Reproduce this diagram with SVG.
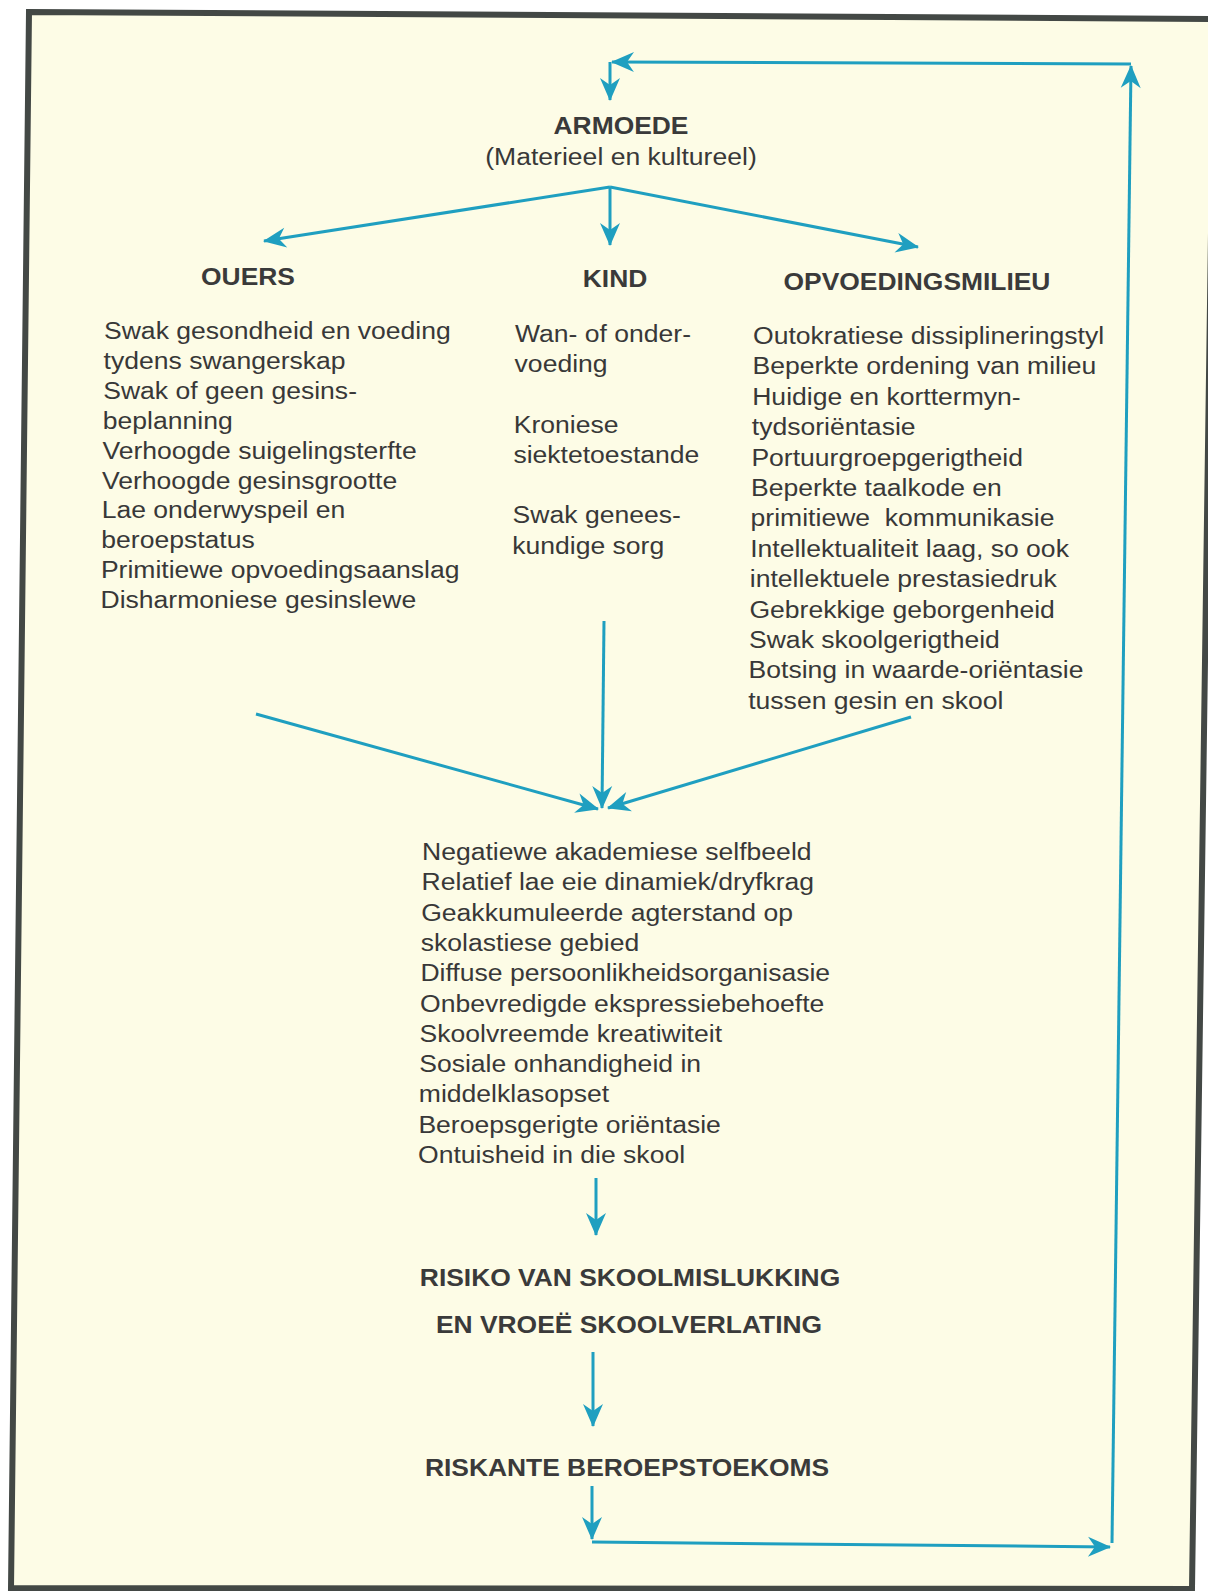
<svg xmlns="http://www.w3.org/2000/svg" width="1208" height="1591" viewBox="0 0 1208 1591">
<style>
.t{font-family:"Liberation Sans",Arial,sans-serif;font-size:23.5px;fill:#383838}
.b{font-family:"Liberation Sans",Arial,sans-serif;font-size:24px;font-weight:bold;fill:#3a3a3a;text-anchor:middle}
.c{fill:none;stroke:#1f9fc0;stroke-width:3;marker-end:url(#ah)}
.p{fill:none;stroke:#1f9fc0;stroke-width:3}
</style>
<defs>
<marker id="ah" viewBox="-23 -11 25 22" refX="0" refY="0" markerWidth="25" markerHeight="22" markerUnits="userSpaceOnUse" orient="auto">
<path d="M1,0 L-22,-10 L-15,0 L-22,10 Z" fill="#1f9fc0"/>
</marker>
</defs>
<rect x="0" y="0" width="1208" height="1591" fill="#ffffff"/>
<polygon id="frame" points="29,12 1214,19 1192,1589 11,1588" fill="#fdfce6" stroke="#434845" stroke-width="6"/>

<g id="connectors">
<line class="c" x1="1131" y1="64" x2="612" y2="62"/>
<line class="c" x1="610" y1="62" x2="610" y2="100"/>
<line class="c" x1="1112" y1="1543" x2="1131" y2="66"/>
<line class="c" x1="592" y1="1542" x2="1110" y2="1547"/>
<line class="c" x1="592" y1="1486" x2="592" y2="1539"/>
<line class="c" x1="610" y1="187" x2="264" y2="241"/>
<line class="c" x1="610" y1="187" x2="610" y2="245"/>
<line class="c" x1="610" y1="187" x2="918" y2="247"/>
<line class="c" x1="256" y1="714" x2="598" y2="809"/>
<line class="c" x1="604" y1="621" x2="602" y2="808"/>
<line class="c" x1="911" y1="717" x2="608" y2="808"/>
<line class="c" x1="596" y1="1178" x2="596" y2="1235"/>
<line class="c" x1="593" y1="1352" x2="593" y2="1426"/>
</g>

<g id="armoede">
<text class="b" transform="translate(621,134) scale(1.1,1)">ARMOEDE</text>
<text class="t" text-anchor="middle" transform="translate(621,165) scale(1.13,1)">(Materieel en kultureel)</text>
</g>

<g id="ouers">
<text class="b" transform="translate(248,285) scale(1.1,1)">OUERS</text>
<text class="t" transform="translate(104,339) scale(1.13,1)">Swak gesondheid en voeding</text>
<text class="t" transform="translate(103.6,369) scale(1.13,1)">tydens swangerskap</text>
<text class="t" transform="translate(103.2,399) scale(1.13,1)">Swak of geen gesins-</text>
<text class="t" transform="translate(102.8,429) scale(1.13,1)">beplanning</text>
<text class="t" transform="translate(102.4,459) scale(1.13,1)">Verhoogde suigelingsterfte</text>
<text class="t" transform="translate(102,488.5) scale(1.13,1)">Verhoogde gesinsgrootte</text>
<text class="t" transform="translate(101.7,518) scale(1.13,1)">Lae onderwyspeil en</text>
<text class="t" transform="translate(101.3,548) scale(1.13,1)">beroepstatus</text>
<text class="t" transform="translate(100.9,578) scale(1.13,1)">Primitiewe opvoedingsaanslag</text>
<text class="t" transform="translate(100.5,608) scale(1.13,1)">Disharmoniese gesinslewe</text>
</g>

<g id="kind">
<text class="b" transform="translate(615,287) scale(1.1,1)">KIND</text>
<text class="t" transform="translate(515,342) scale(1.13,1)">Wan- of onder-</text>
<text class="t" transform="translate(514.6,372) scale(1.13,1)">voeding</text>
<text class="t" transform="translate(513.8,433) scale(1.13,1)">Kroniese</text>
<text class="t" transform="translate(513.4,463) scale(1.13,1)">siektetoestande</text>
<text class="t" transform="translate(512.6,523) scale(1.13,1)">Swak genees-</text>
<text class="t" transform="translate(512.2,554) scale(1.13,1)">kundige sorg</text>
</g>

<g id="opvoedingsmilieu">
<text class="b" transform="translate(917,290) scale(1.1,1)">OPVOEDINGSMILIEU</text>
<text class="t" transform="translate(753,344) scale(1.13,1)">Outokratiese dissiplineringstyl</text>
<text class="t" transform="translate(752.6,374) scale(1.13,1)">Beperkte ordening van milieu</text>
<text class="t" transform="translate(752.2,405) scale(1.13,1)">Huidige en korttermyn-</text>
<text class="t" transform="translate(751.8,435) scale(1.13,1)">tydsoriëntasie</text>
<text class="t" transform="translate(751.4,466) scale(1.13,1)">Portuurgroepgerigtheid</text>
<text class="t" transform="translate(751,496) scale(1.13,1)">Beperkte taalkode en</text>
<text class="t" transform="translate(750.6,526) scale(1.13,1)">primitiewe&#160; kommunikasie</text>
<text class="t" transform="translate(750.2,557) scale(1.13,1)">Intellektualiteit laag, so ook</text>
<text class="t" transform="translate(749.8,587) scale(1.13,1)">intellektuele prestasiedruk</text>
<text class="t" transform="translate(749.4,618) scale(1.13,1)">Gebrekkige geborgenheid</text>
<text class="t" transform="translate(749,648) scale(1.13,1)">Swak skoolgerigtheid</text>
<text class="t" transform="translate(748.6,678) scale(1.13,1)">Botsing in waarde-oriëntasie</text>
<text class="t" transform="translate(748.2,709) scale(1.13,1)">tussen gesin en skool</text>
</g>

<g id="gevolge">
<text class="t" transform="translate(422,860) scale(1.13,1)">Negatiewe akademiese selfbeeld</text>
<text class="t" transform="translate(421.6,890) scale(1.13,1)">Relatief lae eie dinamiek/dryfkrag</text>
<text class="t" transform="translate(421.2,921) scale(1.13,1)">Geakkumuleerde agterstand op</text>
<text class="t" transform="translate(420.8,951) scale(1.13,1)">skolastiese gebied</text>
<text class="t" transform="translate(420.4,981) scale(1.13,1)">Diffuse persoonlikheidsorganisasie</text>
<text class="t" transform="translate(420,1011.5) scale(1.13,1)">Onbevredigde ekspressiebehoefte</text>
<text class="t" transform="translate(419.6,1042) scale(1.13,1)">Skoolvreemde kreatiwiteit</text>
<text class="t" transform="translate(419.2,1072) scale(1.13,1)">Sosiale onhandigheid in</text>
<text class="t" transform="translate(418.8,1102) scale(1.13,1)">middelklasopset</text>
<text class="t" transform="translate(418.4,1133) scale(1.13,1)">Beroepsgerigte oriëntasie</text>
<text class="t" transform="translate(418,1163) scale(1.13,1)">Ontuisheid in die skool</text>
</g>

<g id="risiko">
<text class="b" transform="translate(630,1286) scale(1.1,1)">RISIKO VAN SKOOLMISLUKKING</text>
<text class="b" transform="translate(629,1333) scale(1.1,1)">EN VROEË SKOOLVERLATING</text>
</g>

<g id="riskante">
<text class="b" transform="translate(627,1476) scale(1.1,1)">RISKANTE BEROEPSTOEKOMS</text>
</g>
</svg>
